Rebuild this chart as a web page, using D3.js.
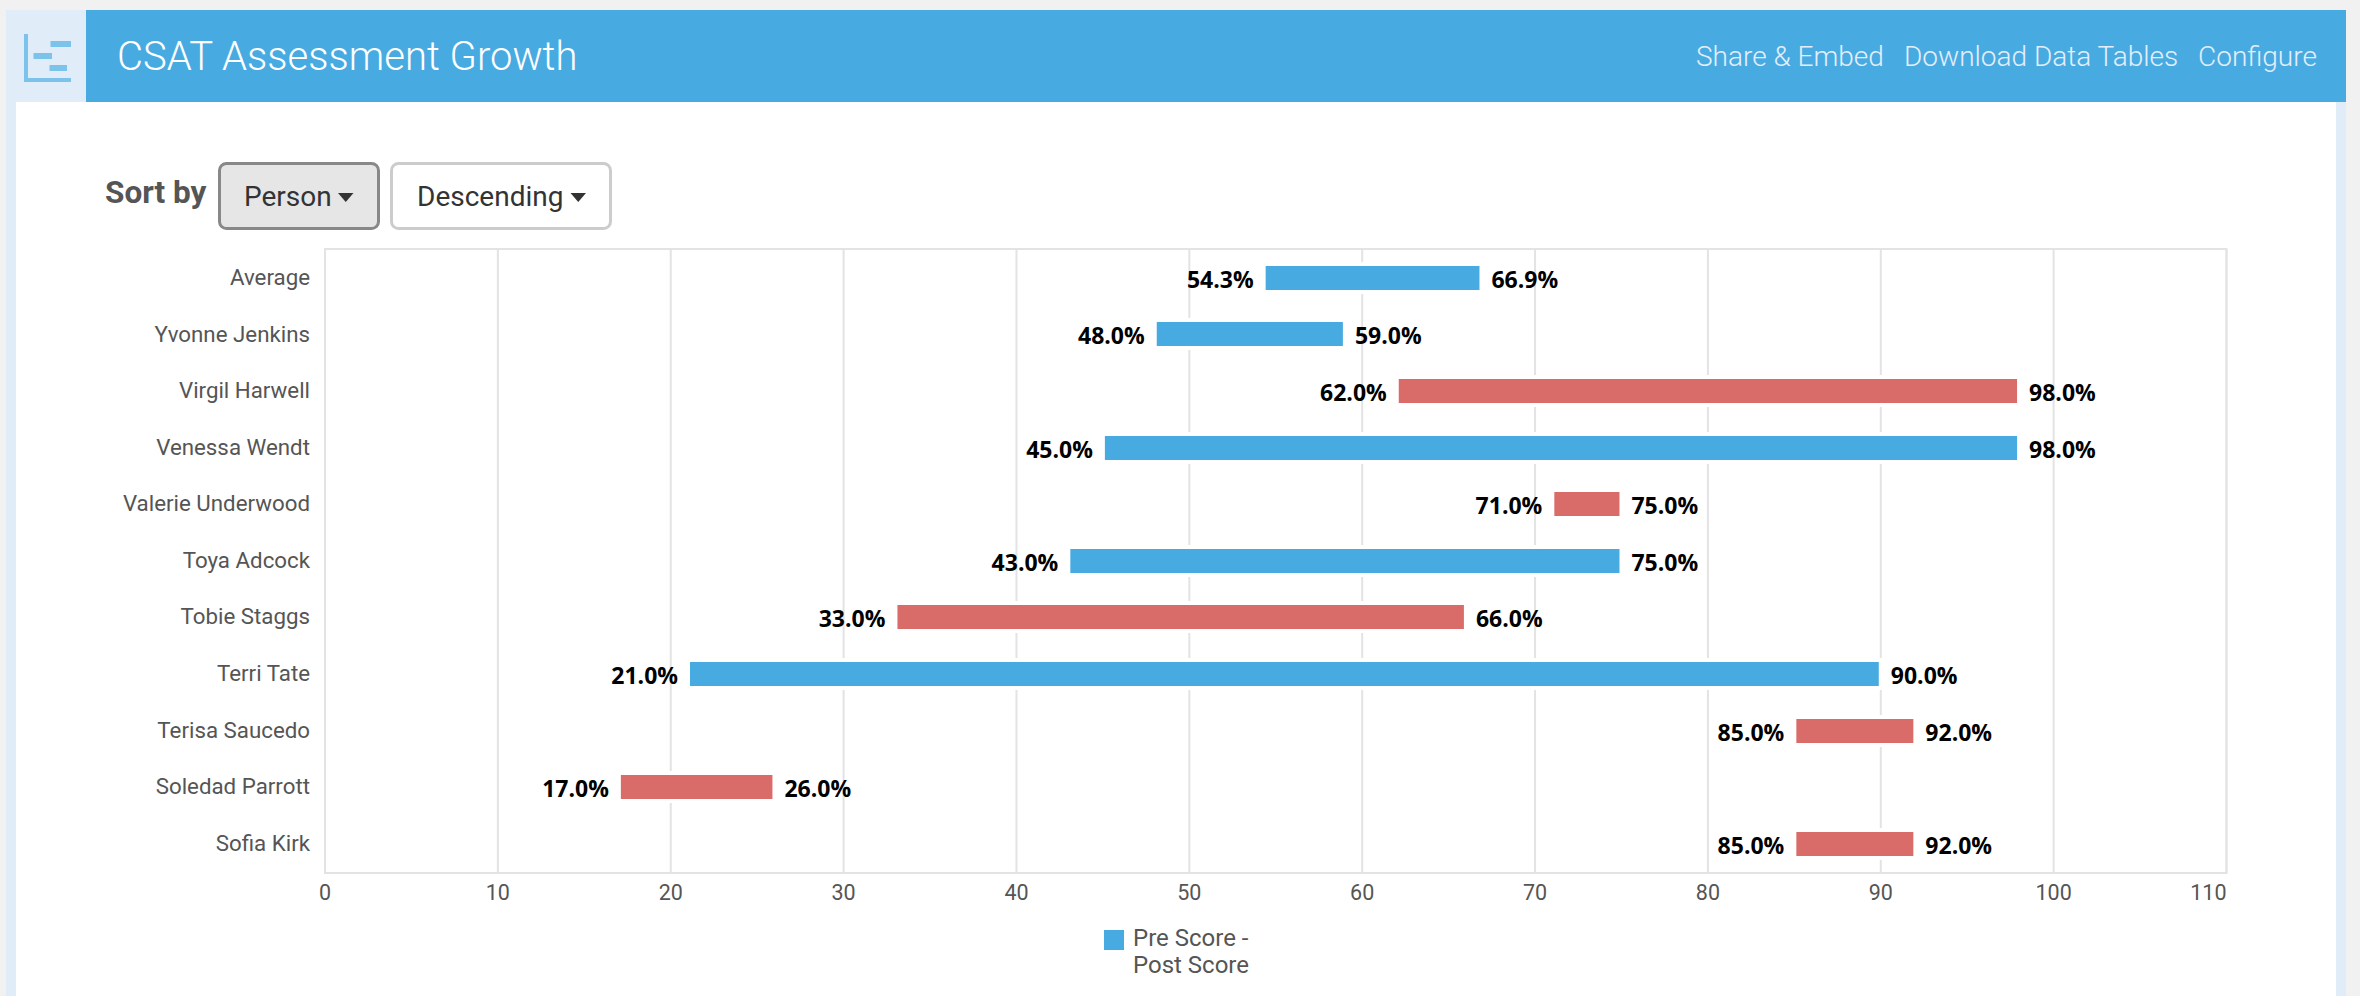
<!DOCTYPE html>
<html>
<head>
<meta charset="utf-8">
<title>CSAT Assessment Growth</title>
<script src="https://cdnjs.cloudflare.com/ajax/libs/d3/7.8.5/d3.min.js"></script>
<style>
	html, body { margin: 0; padding: 0; background: #f1f1f1; overflow: hidden; }
	svg { display: block; font-family: Roboto, sans-serif; }
	.domain { display: none; }
</style>
</head>
<body>
<div id="chart"></div>
<script>
var people = ["Average", "Yvonne Jenkins", "Virgil Harwell", "Venessa Wendt", "Valerie Underwood", "Toya Adcock",
	"Tobie Staggs", "Terri Tate", "Terisa Saucedo", "Soledad Parrott", "Sofia Kirk"];
var preScores = [54.3, 48, 62, 45, 71, 43, 33, 21, 85, 17, 85];
var postScores = [66.9, 59, 98, 98, 75, 75, 66, 90, 92, 26, 92];
var flagged = [false, false, true, false, true, false, true, false, true, true, true];
var xTicks = [0, 10, 20, 30, 40, 50, 60, 70, 80, 90, 100, 110];
var navLinks = ["Share & Embed", "Download Data Tables", "Configure"];
var legendLines = ["Pre Score -", "Post Score"];

var blue = "#47abe2",
	red = "#d96c69",
	paleBlue = "#e0ecf8",
	gridColor = "#e3e3e3",
	textColor = "#555";

drawPage();

function drawPage(){
	var width = 2360;
	var height = 996;

	var svg = d3.select("#chart")
		.append("svg")
		.attr("width", width)
		.attr("height", height);

	// page frame
	svg.append("rect").attr("x", 6).attr("y", 10).attr("width", 2340).attr("height", 986).attr("fill", paleBlue);
	svg.append("rect").attr("x", 16).attr("y", 102).attr("width", 2320).attr("height", 894).attr("fill", "#fff");
	svg.append("rect").attr("x", 86).attr("y", 10).attr("width", 2260).attr("height", 92).attr("fill", blue);

	drawIcon(svg);

	svg.append("text")
		.attr("x", 117)
		.attr("y", 70)
		.attr("fill", "#fff")
		.attr("font-size", 40)
		.attr("font-weight", 300)
		.text("CSAT Assessment Growth");

	var navX = [1696, 1904, 2198];
	svg.selectAll(".nav")
		.data(navLinks)
		.enter()
		.append("text")
		.attr("class", "nav")
		.attr("x", function(d, i){ return navX[i]; })
		.attr("y", 66)
		.attr("fill", "#e4eefa")
		.attr("font-size", 28)
		.attr("font-weight", 300)
		.text(function(d){ return d; });

	// sort controls
	svg.append("text")
		.attr("x", 105)
		.attr("y", 203)
		.attr("fill", textColor)
		.attr("font-size", 31.5)
		.attr("font-weight", 700)
		.text("Sort by");

	drawButton(svg, 219.5, 163.5, 159, 65, "Person", 244, "#e6e6e6", "#888", 338);
	drawButton(svg, 391.5, 163.5, 219, 65, "Descending", 417, "#fff", "#ccc", 570.5);

	drawChart(svg);
}

function drawIcon(svg){
	var g = svg.append("g").attr("fill", "#7cc3ec");
	g.append("rect").attr("x", 24).attr("y", 34).attr("width", 4).attr("height", 48);
	g.append("rect").attr("x", 24).attr("y", 78).attr("width", 47).attr("height", 4);
	g.append("rect").attr("x", 50.5).attr("y", 41).attr("width", 20.5).attr("height", 6);
	g.append("rect").attr("x", 33.5).attr("y", 53).attr("width", 18.5).attr("height", 6);
	g.append("rect").attr("x", 49.5).attr("y", 65).attr("width", 17.5).attr("height", 6);
}

function drawButton(svg, x, y, w, h, label, textX, fill, stroke, caretX){
	svg.append("rect")
		.attr("x", x).attr("y", y)
		.attr("width", w).attr("height", h)
		.attr("rx", 7)
		.attr("fill", fill)
		.attr("stroke", stroke)
		.attr("stroke-width", 3);
	svg.append("text")
		.attr("x", textX)
		.attr("y", 206)
		.attr("fill", "#333")
		.attr("font-size", 28)
		.text(label);
	svg.append("path")
		.attr("d", "M" + caretX + ",193h15.5l-7.75,9z")
		.attr("fill", "#333");
}

function drawChart(svg){
	var left = 325,
		right = 2226.5,
		top = 249,
		bottom = 873;

	var x = d3.scaleLinear().domain([0, 110]).range([left, right]);
	var y = d3.scaleBand().domain(people).range([249.5, 872]);
	var fmt = d3.format(".1f");

	// plot frame
	svg.append("rect")
		.attr("x", left).attr("y", top)
		.attr("width", right - left).attr("height", bottom - top)
		.attr("fill", "none")
		.attr("stroke", gridColor)
		.attr("stroke-width", 2);

	// bottom axis, tick lines double as the grid
	var xAxis = svg.append("g")
		.attr("transform", "translate(0," + bottom + ")")
		.call(d3.axisBottom(x).tickValues(xTicks).tickSize(top - bottom).tickPadding(0).offset(0));
	xAxis.selectAll("line").attr("stroke", gridColor).attr("stroke-width", 2);
	xAxis.selectAll("text")
		.attr("y", 27)
		.attr("dy", 0)
		.attr("fill", textColor)
		.attr("font-size", 21.5)
		.attr("font-family", "Roboto, sans-serif");
	// last label stays inside the plot edge
	xAxis.selectAll("text")
		.filter(function(d){ return d === 110; })
		.attr("text-anchor", "end");

	var yAxis = svg.append("g")
		.attr("transform", "translate(310,0)")
		.call(d3.axisLeft(y).tickSize(0).tickPadding(0).offset(0));
	yAxis.selectAll("text")
		.attr("fill", textColor)
		.attr("font-size", 22.3)
		.attr("font-family", "Roboto, sans-serif");

	var rows = people.map(function(p, i){
		return { person: p, pre: preScores[i], post: postScores[i], flag: flagged[i] };
	});

	var center = function(d){ return Math.round(y(d.person) + y.bandwidth() / 2); };

	// white halo cuts the grid around every bar
	svg.append("g").selectAll("rect")
		.data(rows)
		.enter()
		.append("rect")
		.attr("x", function(d){ return x(d.pre) - 2; })
		.attr("y", function(d){ return center(d) - 16; })
		.attr("width", function(d){ return x(d.post) - x(d.pre) + 4; })
		.attr("height", 32)
		.attr("fill", "#fff");

	svg.append("g").selectAll("rect")
		.data(rows)
		.enter()
		.append("rect")
		.attr("x", function(d){ return x(d.pre) + 2; })
		.attr("y", function(d){ return center(d) - 12; })
		.attr("width", function(d){ return x(d.post) - x(d.pre) - 4; })
		.attr("height", 24)
		.attr("fill", function(d){ return d.flag ? red : blue; });

	var labels = svg.append("g")
		.attr("font-family", "'Open Sans', sans-serif")
		.attr("font-weight", 700)
		.attr("font-size", 23)
		.attr("fill", "#000");

	labels.selectAll(".pre")
		.data(rows)
		.enter()
		.append("text")
		.attr("class", "pre")
		.attr("text-anchor", "end")
		.attr("x", function(d){ return x(d.pre) - 10; })
		.attr("y", function(d){ return center(d) + 10; })
		.text(function(d){ return fmt(d.pre) + "%"; });

	labels.selectAll(".post")
		.data(rows)
		.enter()
		.append("text")
		.attr("class", "post")
		.attr("x", function(d){ return x(d.post) + 10; })
		.attr("y", function(d){ return center(d) + 10; })
		.text(function(d){ return fmt(d.post) + "%"; });

	// legend
	svg.append("rect")
		.attr("x", 1104).attr("y", 930)
		.attr("width", 20).attr("height", 20)
		.attr("fill", blue);
	svg.selectAll(".legend")
		.data(legendLines)
		.enter()
		.append("text")
		.attr("class", "legend")
		.attr("x", 1133)
		.attr("y", function(d, i){ return 946 + i * 27; })
		.attr("fill", textColor)
		.attr("font-size", 24)
		.text(function(d){ return d; });
}
</script>
</body>
</html>
